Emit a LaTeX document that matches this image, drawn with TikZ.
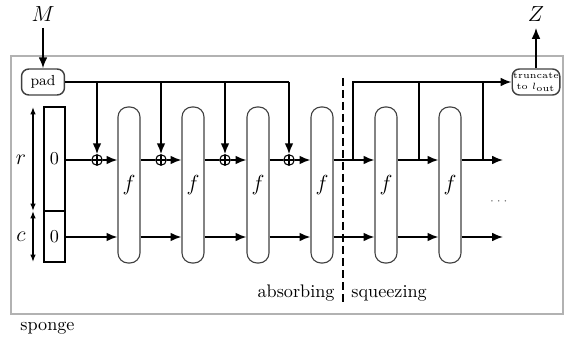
\documentclass[tikz,border=0pt]{standalone}
\usepackage{amsmath,amssymb}
\usetikzlibrary{arrows.meta}
\begin{document}
\begin{tikzpicture}[x=0.55pt,y=-0.55pt,>={Latex[length=6pt,width=4.8pt]},
  wire/.style={line width=0.9pt},
  fbox/.style={draw=black!75,line width=0.6pt,rounded corners=5.5pt,minimum width=12.1pt,minimum height=85.8pt,inner sep=0pt,font=\large},
  rbox/.style={draw=black!75,line width=0.8pt,rounded corners=4pt,minimum width=23.6pt,minimum height=14.3pt,inner sep=1pt},
  cell/.style={draw,line width=0.8pt,minimum width=11.5pt,inner sep=0pt},
  xorc/.style={draw,circle,line width=0.6pt,minimum size=5.8pt,inner sep=0pt,
    path picture={\draw[line width=0.6pt] (path picture bounding box.north) -- (path picture bounding box.south)
      (path picture bounding box.west) -- (path picture bounding box.east);}}]
\useasboundingbox (0,0) rectangle (564,340);
\draw[gray!60,line width=1pt] (11,56) rectangle (563,314);
\node[anchor=west] (lbl) at (14,328) {sponge};

% input, output
\node[font=\large] (M) at (43,14) {$M$};
\node[font=\large] (Z) at (536,14) {$Z$};
\node[rbox,font=\footnotesize] (pad) at (43,82) {pad};
\node[rbox,font=\tiny,align=center,inner sep=0.5pt] (trunc) at (536,82) {truncate\\to $l_{\mathrm{out}}$};
\draw[wire,->] (M) -- (pad);
\draw[wire,->] (trunc) -- (Z);

% state
\node[cell,minimum height=57.2pt] (sr) at (54.5,159) {$0$};
\node[cell,minimum height=28pt] (sc) at (54.5,236.5) {$0$};
\draw[line width=0.7pt,{Latex[length=4pt,width=3pt]}-{Latex[length=4pt,width=3pt]}] (33,107) -- (33,211);
\draw[line width=0.7pt,{Latex[length=4pt,width=3pt]}-{Latex[length=4pt,width=3pt]}] (33,211) -- (33,262);
\node[font=\large] (r) at (21,160) {$r$};
\node[font=\large] (c) at (21,237) {$c$};

% permutations
\node[fbox] (f1) at (129,185) {$f$};
\node[fbox] (f2) at (193,185) {$f$};
\node[fbox] (f3) at (258,185) {$f$};
\node[fbox] (f4) at (322,185) {$f$};
\node[fbox] (f5) at (386,185) {$f$};
\node[fbox] (f6) at (450,185) {$f$};

\node[xorc] (x1) at (97,160) {};
\node[xorc] (x2) at (161,160) {};
\node[xorc] (x3) at (225,160) {};
\node[xorc] (x4) at (289,160) {};

% absorbing
\coordinate (t1) at (97,82);
\coordinate (t2) at (161,82);
\coordinate (t3) at (225,82);
\coordinate (t4) at (289,82);
\draw[wire] (pad) -- (t4);
\draw[wire,->] (t1) -- (x1);
\draw[wire,->] (t2) -- (x2);
\draw[wire,->] (t3) -- (x3);
\draw[wire,->] (t4) -- (x4);

\draw[wire] (sr.east |- x1) -- (x1.west);
\draw[wire,->] (x1.east) -- (f1.west |- x1);
\draw[wire] (f1.east |- x2) -- (x2.west);
\draw[wire,->] (x2.east) -- (f2.west |- x2);
\draw[wire] (f2.east |- x3) -- (x3.west);
\draw[wire,->] (x3.east) -- (f3.west |- x3);
\draw[wire] (f3.east |- x4) -- (x4.west);
\draw[wire,->] (x4.east) -- (f4.west |- x4);

\coordinate (e2) at (503,237);
\draw[wire,->] (sc.east |- e2) -- (f1.west |- e2);
\draw[wire,->] (f1.east |- e2) -- (f2.west |- e2);
\draw[wire,->] (f2.east |- e2) -- (f3.west |- e2);
\draw[wire,->] (f3.east |- e2) -- (f4.west |- e2);
\draw[wire,->] (f4.east |- e2) -- (f5.west |- e2);
\draw[wire,->] (f5.east |- e2) -- (f6.west |- e2);
\draw[wire,->] (f6.east |- e2) -- (e2);

% squeezing
\coordinate (b1) at (353,160);
\coordinate (b2) at (419,160);
\coordinate (b3) at (483,160);
\coordinate (u1) at (353,82);
\coordinate (e1) at (503,160);
\draw[wire,->] (f4.east |- b1) -- (f5.west |- b1);
\draw[wire,->] (f5.east |- b2) -- (f6.west |- b2);
\draw[wire,->] (f6.east |- e1) -- (e1);
\draw[wire,->] (b1) -- (u1) -- (trunc);
\draw[wire] (b2) -- (b2 |- u1);
\draw[wire] (b3) -- (b3 |- u1);
\node[font=\scriptsize,text=black!60] (more) at (500,202) {$\cdots$};

\draw[line width=1pt,dash pattern=on 4.4pt off 2.2pt] (343,78) -- (343,305);
\node[anchor=east] (absorb) at (341,293) {absorbing};
\node[anchor=west] (squeeze) at (345,293) {squeezing};
\end{tikzpicture}
\end{document}
